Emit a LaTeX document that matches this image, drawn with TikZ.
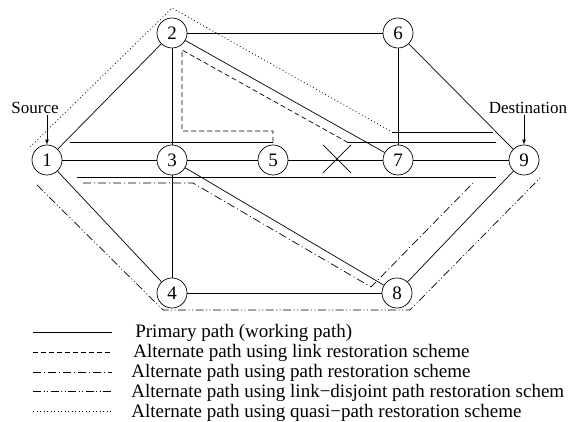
\documentclass[tikz,border=0pt]{standalone}
\usepackage{fontspec}
\setmainfont{Liberation Serif}
\usetikzlibrary{arrows}

\tikzset{
 router/.style={draw, circle, minimum size=30pt, inner sep=0pt, font=\fontsize{19}{20}\selectfont},
 linkres/.style={dash pattern=on 5pt off 3pt},
 pathres/.style={dash pattern=on 8pt off 3pt on 1pt off 3pt},
 disjres/.style={dash pattern=on 8pt off 2.5pt on 1pt off 2.5pt on 1pt off 2.5pt},
 quasires/.style={dash pattern=on 1pt off 2.5pt},
 tag/.style={inner sep=1pt, font=\fontsize{17}{18}\selectfont},
 legtext/.style={anchor=base west, inner sep=0pt, font=\fontsize{19}{20}\selectfont}
}

\begin{document}
\begin{tikzpicture}[x=10pt, y=10pt, line width=0.7pt]
\useasboundingbox (0,0) rectangle (57.1,42.2);


 \node [router] (n1) at (4.7,26.2) {1};
 \node [router] (n2) at (17.2,38.9) {2};
 \node [router] (n3) at (17.2,26.2) {3};
 \node [router] (n4) at (17.2,12.9) {4};
 \node [router] (n5) at (27.3,26.2) {5};
 \node [router] (n6) at (39.8,38.9) {6};
 \node [router] (n7) at (39.8,26.2) {7};
 \node [router] (n8) at (39.7,12.9) {8};
 \node [router] (n9) at (52.4,26.2) {9};

\draw (n1) -- (n2);
\draw (n1) -- (n3);
\draw (n1) -- (n4);
\draw (n2) -- (n3);
\draw (n2) -- (n6);
\draw (n2) -- (n7);
\draw (n3) -- (n4);
\draw (n3) -- (n5);
\draw (n3) -- (n8);
\draw (n4) -- (n8);
\draw (n5) -- (n7);
\draw (n6) -- (n7);
\draw (n6) -- (n9);
\draw (n7) -- (n9);
\draw (n8) -- (n9);

\coordinate (cut) at (33.7,26.3);
\draw (cut) ++(-1.4,1.4) -- ++(2.8,-2.8);
\draw (cut) ++(-1.4,-1.4) -- ++(2.8,2.8);

 \node [tag] (src) at (3.5,31.4) {Source};
 \node [tag] (dst) at (52.8,31.4) {Destination};
\draw [-latex] (n1 |- src.south) -- (n1.north);
\draw [-latex] (n9 |- dst.south) -- (n9.north);


\draw (7.7,24.5) -- (49.6,24.5);

\draw (7.0,28.0) -- (27.3,28.0);
\draw [linkres] (27.3,28.0) -- (27.3,29.1) -- (18.2,29.1) -- (18.2,37.2) -- (34.7,28.0);
\draw (34.7,28.0) -- (49.6,28.0);

\draw [pathres] (8.3,23.9) -- (19.3,23.9) -- (37.1,13.5) -- (47.3,23.9);

\draw [disjres] (3.7,23.7) -- (16.3,11.2) -- (41.0,11.2) -- (54.0,24.4);

\draw [quasires] (3.0,27.5) -- (17.2,41.4) -- (39.2,29.0);
\draw (39.2,29.0) -- (49.3,29.0);


\draw (3.3,9.0) -- (11.2,9.0);
\draw [linkres] (3.3,7.0) -- (11.2,7.0);
\draw [pathres] (3.3,5.0) -- (11.2,5.0);
\draw [disjres] (3.3,3.1) -- (11.2,3.1);
\draw [quasires] (3.3,1.1) -- (11.2,1.1);

 \node [legtext] (lg1) at (13.5,8.4) {Primary path (working path)};
 \node [legtext] (lg2) at (13.3,6.4) {Alternate path using link restoration scheme};
 \node [legtext] (lg3) at (13.1,4.4) {Alternate path using path restoration scheme};
 \node [legtext] (lg4) at (13.1,2.4) {Alternate path using link−disjoint path restoration schem};
 \node [legtext] (lg5) at (13.1,0.45) {Alternate path using quasi−path restoration scheme};

\end{tikzpicture}
\end{document}
